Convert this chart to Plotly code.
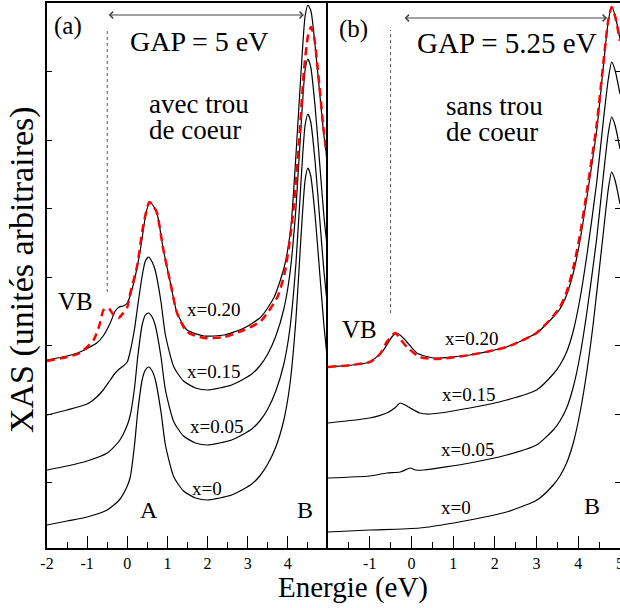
import plotly.graph_objects as go

# ---------------- data (energies in eV, intensity in arbitrary units) ----------------
# Panel (a): avec trou de coeur
E_a_x0 = [-2.0,-1.5,-1.0,-0.5,-0.2,0.0,0.075,0.18,0.26,0.37,0.45,0.53,0.62,0.7,0.84,0.95,1.16,1.4,1.7,2.0,2.3,2.6,2.9,3.1,3.3,3.5,3.7,3.9,4.05,4.2,4.33,4.43,4.5,4.57,4.68,4.8,4.9,5.0]
I_a_x0 = [26,30,34,41,51,65,74,106,139,171,181,184,180,171,139,106,74,60,53,51,53,56,62,67,75,87,104,131,166,231,316,371,383,375,335,275,225,185]
E_a_x05 = E_a_x0
I_a_x05 = [81,85,90,98,110,126,136,163,194,226,236,238,234,225,194,161,129,115,108,106,108,111,117,122,130,142,160,187,222,287,371,426,437,429,389,329,279,239]
E_a_x15 = [-2.0,-1.5,-1.0,-0.76,-0.6,-0.425,-0.3,-0.2,-0.1,0.0,0.075,0.18,0.26,0.37,0.45,0.53,0.62,0.7,0.84,0.95,1.16,1.4,1.7,2.0,2.3,2.6,2.9,3.1,3.3,3.5,3.7,3.9,4.05,4.2,4.33,4.43,4.5,4.57,4.68,4.8,4.9,5.0]
I_a_x15 = [136,141,147,154,161,171,178,182,185,189,200,222,245,275,290,294,289,280,249,216,184,170,163,161,163,166,172,177,185,197,215,242,277,342,426,481,492,484,444,384,334,297]
E_a_x20 = [-2.0,-1.5,-1.18,-0.76,-0.6,-0.425,-0.3,-0.2,-0.1,0.0,0.16,0.325,0.45,0.55,0.65,0.74,0.9,1.075,1.24,1.49,1.91,2.41,2.91,3.33,3.66,3.91,4.075,4.2,4.33,4.43,4.5,4.575,4.68,4.8,4.9,5.0]
I_a_x20 = [191,195,199,208,215,228,240,244,245,248,268,301,334,349,345,338,301,268,238,221,215,216,223,234,254,284,324,395,480,535,546,540,505,455,415,386]
E_a_red = [-2.0,-1.5,-1.18,-0.84,-0.7,-0.59,-0.47,-0.34,-0.22,-0.1,0.0,0.075,0.24,0.4,0.55,0.65,0.74,0.9,1.075,1.24,1.49,1.91,2.41,2.91,3.33,3.74,3.91,4.03,4.15,4.28,4.4,4.5,4.575,4.65,4.74,4.9,5.0]
I_a_red = [190,194,198,211,225,241,243,236,233,238,244,258,284,326,349,345,338,301,268,238,219,213,214,221,230,254,276,305,345,410,480,515,524,515,484,418,388]

# Panel (b): sans trou de coeur
E_b_x0 = [-2.0,-1.0,0.2,1.4,2.28,2.92,3.08,3.4,3.56,3.72,3.88,4.04,4.2,4.36,4.6,4.72,4.8,4.88,5.0]
I_b_x0 = [19,21,23,31,39,49,53,66,75,88,108,138,178,228,318,362,379,371,347]
E_b_x05 = [-2.0,-1.0,-0.59,-0.27,-0.1,-0.03,0.1,0.3,1.4,2.28,3.0,3.4,3.56,3.72,3.88,4.04,4.2,4.44,4.6,4.72,4.8,4.88,5.0]
I_b_x05 = [73,75,78,79,82,83,81,81,88,96,106,121,130,143,164,195,237,312,375,418,434,426,402]
E_b_x15 = [-2.0,-1.0,-0.59,-0.4,-0.27,-0.15,-0.03,0.2,0.45,1.4,2.28,3.0,3.4,3.56,3.72,3.88,4.04,4.2,4.44,4.6,4.72,4.8,4.88,5.0]
I_b_x15 = [128,133,138,143,148,146,143,138,137,143,151,161,177,186,199,220,252,294,368,430,472,489,481,457]
E_b_x20 = [-2.0,-1.0,-0.67,-0.47,-0.34,-0.15,0.13,0.53,1.4,2.28,3.0,3.4,3.56,3.72,3.88,4.04,4.2,4.44,4.6,4.72,4.8,4.88,5.0]
I_b_x20 = [184,189,201,214,218,211,198,193,196,204,218,234,242,256,278,310,352,420,484,530,544,536,512]
E_b_red = [-2.0,-1.0,-0.75,-0.59,-0.39,-0.25,-0.11,0.2,0.6,1.4,2.28,3.0,3.4,3.56,3.72,3.88,4.04,4.2,4.44,4.6,4.72,4.8,4.88,5.0]
I_b_red = [184,189,197,209,218,211,204,194,192,196,204,218,235,244,259,283,316,358,426,488,531,544,535,510]

# tick labels
xticks_a = [-2, -1, 0, 1, 2, 3, 4]
xticks_b = [-1, 0, 1, 2, 3, 4, 5]
minor_a = [-1.5, -0.5, 0.5, 1.5, 2.5, 3.5, 4.5]
minor_b = [-1.5, -0.5, 0.5, 1.5, 2.5, 3.5, 4.5]
yticks = [68.5, 137, 205.5, 274, 342.5, 411, 479.5]

# gap annotations: [start, end] energies
gap_a = [-0.5, 4.4]
gap_b = [-0.2, 4.69]
vb_edge_a = -0.5
vb_edge_b = -0.5

FONT = "'Liberation Serif', 'Times New Roman', Times, 'DejaVu Serif', serif"
BLACK = "black"
RED = "#ff0000"

fig = go.Figure()

def black(E, I, xa, ya):
    fig.add_trace(go.Scatter(x=E, y=I, mode="lines", xaxis=xa, yaxis=ya,
                             line=dict(color=BLACK, width=1.2, shape="spline", smoothing=0.6),
                             showlegend=False, hoverinfo="skip"))

def red(E, I, xa, ya):
    fig.add_trace(go.Scatter(x=E, y=I, mode="lines", xaxis=xa, yaxis=ya,
                             line=dict(color=RED, width=2.5, dash="8px,5px", shape="spline", smoothing=0.6),
                             showlegend=False, hoverinfo="skip"))

for E, I in [(E_a_x0, I_a_x0), (E_a_x05, I_a_x05), (E_a_x15, I_a_x15), (E_a_x20, I_a_x20)]:
    black(E, I, "x", "y")
red(E_a_red, I_a_red, "x", "y")
for E, I in [(E_b_x0, I_b_x0), (E_b_x05, I_b_x05), (E_b_x15, I_b_x15), (E_b_x20, I_b_x20)]:
    black(E, I, "x2", "y2")
red(E_b_red, I_b_red, "x2", "y2")

split = 281 / 573

axis_common = dict(showgrid=False, zeroline=False, showline=True, linecolor=BLACK, linewidth=1.5,
                   automargin=False)
fig.update_layout(
    template="none",
    width=620, height=608,
    margin=dict(l=47, r=0, t=3, b=60, pad=0, autoexpand=False),
    paper_bgcolor="white", plot_bgcolor="white",
    font=dict(family=FONT, color=BLACK),
    showlegend=False,
    xaxis=dict(domain=[0, split], range=[-2, 5], anchor="y", mirror=True,
               tickvals=xticks_a, ticktext=[str(v) for v in xticks_a],
               ticks="inside", ticklen=12, tickcolor=BLACK, tickfont=dict(family=FONT, size=16),
               minor=dict(tickvals=minor_a, ticks="inside", ticklen=6, tickcolor=BLACK),
               **axis_common),
    xaxis2=dict(domain=[split, 1], range=[-2, 5], anchor="y2", mirror=True,
                tickvals=xticks_b, ticktext=[str(v) for v in xticks_b], ticklabeloverflow="allow",
                ticks="inside", ticklen=12, tickcolor=BLACK, tickfont=dict(family=FONT, size=16),
                minor=dict(tickvals=minor_b, ticks="inside", ticklen=6, tickcolor=BLACK),
                **axis_common),
    yaxis=dict(range=[3, 548], anchor="x", tickvals=yticks, ticks="inside", ticklen=5, mirror=False,
               tickcolor=BLACK, showticklabels=False, **axis_common),
    yaxis2=dict(range=[3, 548], anchor="x2", side="right", tickvals=yticks, ticks="inside", mirror=True,
                ticklen=5, tickcolor=BLACK, showticklabels=False, **axis_common),
)

def txt(x, y, s, size, xref="x", yref="y", xanchor="center", **kw):
    fig.add_annotation(x=x, y=y, xref=xref, yref=yref, text=s, showarrow=False,
                       xanchor=xanchor, yanchor="middle", borderpad=0,
                       font=dict(family=FONT, size=size, color=BLACK), **kw)

# panel labels
txt(-1.475, 525, "(a)", 25)
txt(-1.40, 522, "(b)", 25, "x2", "y2")
txt(1.775, 510, "GAP = 5 eV", 28)
txt(2.29, 508, "GAP = 5.25 eV", 29, "x2", "y2")
txt(0.525, 447, "avec trou", 27, xanchor="left")
txt(0.525, 421, "de coeur", 27, xanchor="left")
txt(0.806, 445, "sans trou", 27, "x2", "y2", xanchor="left")
txt(0.806, 419, "de coeur", 27, "x2", "y2", xanchor="left")
txt(-1.3, 250, "VB", 25)
txt(-1.233, 222, "VB", 25, "x2", "y2")
txt(2.15, 242, "x=0.20", 19)
txt(2.15, 180, "x=0.15", 19)
txt(2.225, 125, "x=0.05", 19)
txt(1.975, 63, "x=0", 19)
txt(0.55, 41, "A", 24)
txt(4.425, 41, "B", 24)
txt(1.43, 213, "x=0.20", 19, "x2", "y2")
txt(1.357, 157, "x=0.15", 19, "x2", "y2")
txt(1.333, 102, "x=0.05", 19, "x2", "y2")
txt(1.07, 44, "x=0", 19, "x2", "y2")
txt(4.33, 45, "B", 24, "x2", "y2")

# axis titles
txt(0.534, -0.073, "Energie (eV)", 29, "paper", "paper")
txt(-0.0436, 0.51, "XAS (unités arbitraires)", 34, "paper", "paper", textangle=-90)

# gap arrows
for (g, xr, yr, yv) in [(gap_a, "x", "y", 536), (gap_b, "x2", "y2", 533)]:
    fig.add_annotation(x=g[1], y=yv, ax=g[0], ay=yv, xref=xr, yref=yr, axref=xr, ayref=yr,
                       text="", showarrow=True, arrowhead=4, startarrowhead=4,
                       arrowside="end+start", arrowsize=1.3, startarrowsize=1.3,
                       arrowwidth=1, arrowcolor="#444")

# dotted VB edge lines
fig.add_shape(type="line", x0=vb_edge_a, x1=vb_edge_a, y0=259, y1=521, xref="x", yref="y",
              line=dict(color="#555", width=1, dash="dot"))
fig.add_shape(type="line", x0=vb_edge_b, x1=vb_edge_b, y0=238, y1=521, xref="x2", yref="y2",
              line=dict(color="#555", width=1, dash="dot"))

fig.write_html("out.html", config={"displayModeBar": False},
               post_script="document.body.style.margin='0';document.body.style.padding='0';"
                           "document.body.style.overflow='hidden';")
